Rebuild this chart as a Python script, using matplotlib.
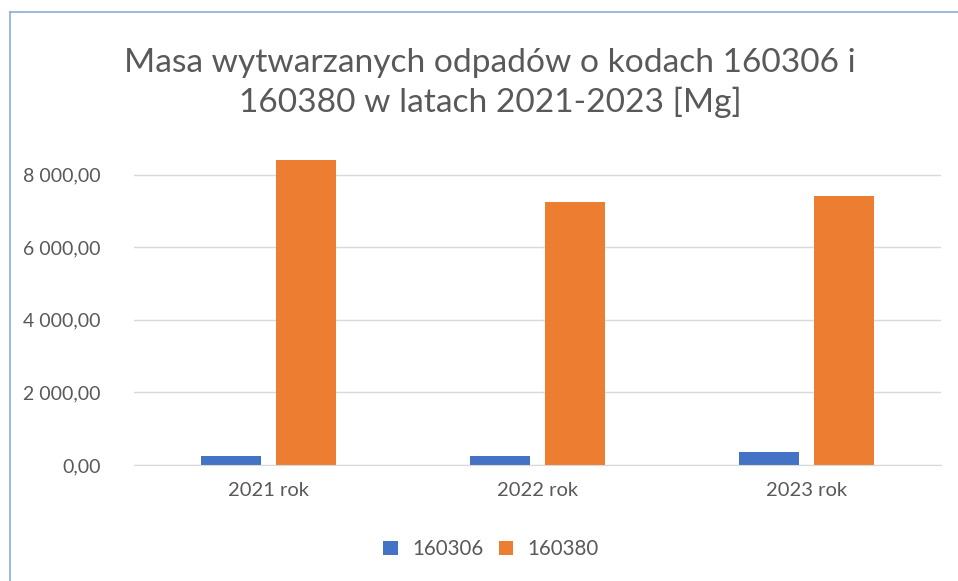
import matplotlib.pyplot as plt
import matplotlib.lines as mlines
from matplotlib.ticker import FuncFormatter
import numpy as np

# Data
years = ['2021 rok', '2022 rok', '2023 rok']
series_names = ['160306', '160380']
mass_160306 = [256, 248, 350]
mass_160380 = [8397, 7239, 7421]
colors = ['#4472C4', '#ED7D31']

plt.rcParams['font.family'] = ['Lato', 'DejaVu Sans']

fig = plt.figure(figsize=(9.58, 5.81), dpi=100)
W, H = 958, 581
# plot area in pixels: x 134..941, y bottom 465
ax = fig.add_axes([134 / W, (H - 465) / H, (941 - 134) / W, (465 - 150) / H])

x = np.arange(len(years))
bw = 0.223
off = 0.141
ax.bar(x - off, mass_160306, bw, color=colors[0], label=series_names[0])
ax.bar(x + off, mass_160380, bw, color=colors[1], label=series_names[1])

ax.set_xlim(-0.5, len(years) - 0.5)
ax.set_ylim(0, 8000 * 315 / 290.3)
ax.set_yticks([0, 2000, 4000, 6000, 8000])
ax.yaxis.set_major_formatter(FuncFormatter(lambda v, p: f"{v:,.2f}".replace(',', ' ').replace('.', ',')))
ax.set_xticks(x)
ax.set_xticklabels(years)

ax.grid(axis='y', color='#D9D9D9', linewidth=1)
ax.set_axisbelow(True)
for s in ['top', 'right', 'left']:
    ax.spines[s].set_visible(False)
ax.spines['bottom'].set_color('#D9D9D9')
ax.tick_params(axis='both', length=0, labelcolor='#595959')
ax.tick_params(axis='y', pad=24, labelsize=14)
ax.tick_params(axis='x', pad=12, labelsize=14.5)

fig.text(490 / W, 1 - 83 / H, 'Masa wytwarzanych odpadów o kodach 160306 i\n160380 w latach 2021-2023 [Mg]',
         ha='center', va='center', fontsize=24.1, color='#595959', linespacing=1.36)

fig.legend(loc='center', bbox_to_anchor=(491 / W, 1 - 549 / H), ncol=2, frameon=False,
           fontsize=14.8, labelcolor='#595959', handlelength=0.7, handleheight=0.7,
           handletextpad=0.7, columnspacing=0.75)

# chart border (left and top edges visible)
fig.add_artist(mlines.Line2D([9.5 / W, 9.5 / W], [0, 1 - 12 / H], color='#8EAADB', linewidth=1.2))
fig.add_artist(mlines.Line2D([9.5 / W, 1], [1 - 12 / H, 1 - 12 / H], color='#8EAADB', linewidth=1.2))

fig.savefig('out.png', dpi=100)
